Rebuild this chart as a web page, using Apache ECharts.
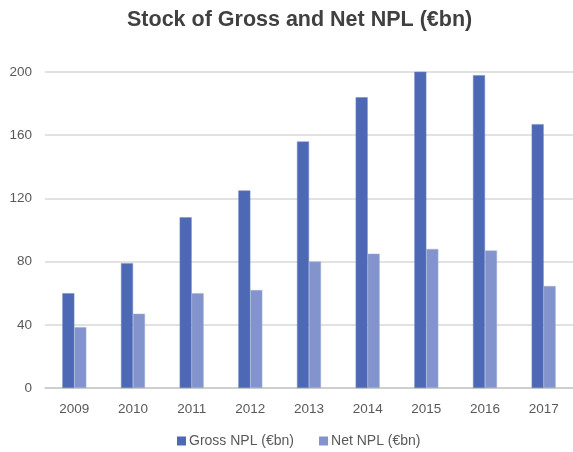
<!DOCTYPE html>
<html>
<head>
<meta charset="utf-8">
<script src="https://cdn.jsdelivr.net/npm/echarts@6/dist/echarts.min.js"></script>
<style>
  html, body { margin: 0; padding: 0; background: #fff; }
  #chart { width: 573px; height: 452px; }
</style>
</head>
<body>
<div id="chart"></div>
<script>
// Stock of gross and net non-performing loans, €bn
const years = ['2009', '2010', '2011', '2012', '2013', '2014', '2015', '2016', '2017'];
const grossNPL = [60, 79, 108, 125, 156, 184, 200.5, 198, 167];
const netNPL = [38.5, 47, 60, 62, 80, 85, 88, 87, 64.5];
const yTicks = { min: 0, max: 200, interval: 40 };

const font = '"Liberation Sans", Arial, Helvetica, sans-serif';
const chart = echarts.init(document.getElementById('chart'), null, { renderer: 'canvas' });

chart.setOption({
  animation: false,
  backgroundColor: '#ffffff',
  textStyle: { fontFamily: font },
  title: {
    text: 'Stock of Gross and Net NPL (€bn)',
    left: 122,
    top: 4,
    textStyle: { fontFamily: font, fontSize: 21.5, fontWeight: 'bold', color: '#404040' }
  },
  legend: {
    left: 172,
    top: 429,
    itemWidth: 9,
    itemHeight: 9,
    itemGap: 25,
    icon: 'rect',
    itemStyle: { borderWidth: 0 },
    textStyle: { fontFamily: font, fontSize: 14, color: '#595959', padding: [0, 0, 0, -2] },
    data: ['Gross NPL (€bn)', 'Net NPL (€bn)']
  },
  grid: { left: 45, right: 0, top: 72, bottom: 64, containLabel: false },
  xAxis: {
    type: 'category',
    data: years,
    axisLine: { lineStyle: { color: '#c8c8c8', width: 1.5 } },
    axisTick: { show: false },
    axisLabel: { fontFamily: font, fontSize: 13.5, color: '#595959', margin: 14 }
  },
  yAxis: {
    type: 'value',
    min: yTicks.min,
    max: yTicks.max,
    interval: yTicks.interval,
    axisLine: { show: false },
    axisTick: { show: false },
    axisLabel: { fontFamily: font, fontSize: 13.5, color: '#595959', margin: 13 },
    splitLine: { lineStyle: { color: '#d9d9d9', width: 1.5 } }
  },
  series: [
    {
      name: 'Gross NPL (€bn)',
      type: 'bar',
      data: grossNPL,
      barWidth: 12,
      barGap: '0%',
      itemStyle: { color: '#4d68b4', borderColor: '#7086c4', borderWidth: 0.5 }
    },
    {
      name: 'Net NPL (€bn)',
      type: 'bar',
      data: netNPL,
      barWidth: 12,
      barGap: '0%',
      itemStyle: { color: '#8394cc', borderColor: '#a3b0d9', borderWidth: 0.5 }
    }
  ]
});
</script>
</body>
</html>
